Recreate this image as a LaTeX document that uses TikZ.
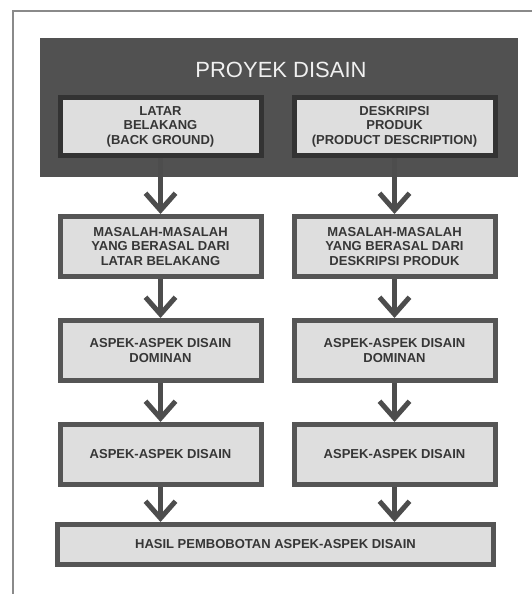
\documentclass[tikz,border=0pt]{standalone}
\usepackage{fontspec}
\setmainfont{Liberation Sans}
\usetikzlibrary{arrows.meta}
\definecolor{framegray}{HTML}{8A8A8A}
\definecolor{darkfill}{HTML}{515151}
\definecolor{boxfill}{HTML}{DEDEDE}
\definecolor{boxline}{HTML}{555555}
\definecolor{topline}{HTML}{333333}
\definecolor{txt}{HTML}{363636}
\definecolor{arrowc}{HTML}{4D4D4D}
\tikzset{
  flowbox/.style={draw=boxline, line width=5pt, fill=boxfill, inner sep=0pt,
    minimum width=201pt, minimum height=60pt, align=center, text=txt,
    font=\fontsize{13}{14.5}\selectfont\bfseries},
  topbox/.style={flowbox, draw=topline, minimum height=58pt},
  flowarrow/.style={draw=arrowc, line width=5pt,
    -{Straight Barb[length=17pt,width=30pt,line width=5pt]}},
}
\begin{document}
\begin{tikzpicture}[x=1pt,y=-1pt]
\useasboundingbox (0,0) rectangle (532,594);
% outer frame (cut at the right and bottom)
\draw[framegray, line width=2pt] (13,594) -- (13,11) -- (532,11);
% dark project box
\node[fill=darkfill, inner sep=0pt, minimum width=478pt, minimum height=139pt] (proyek) at (279,107.5) {};
\node[text=white!94!black, font=\fontsize{22}{24}\selectfont] (title) at (281,70) {PROYEK DISAIN};
\node[topbox] (latar) at (160.5,126.5) {LATAR\\BELAKANG\\(BACK GROUND)};
\node[topbox] (desk) at (394.5,126.5) {DESKRIPSI\\PRODUK\\(PRODUCT DESCRIPTION)};
% left column
\node[flowbox] (mas1) at (160.5,246.5) {MASALAH-MASALAH\\YANG BERASAL DARI\\LATAR BELAKANG};
\node[flowbox] (dom1) at (160.5,350.5) {ASPEK-ASPEK DISAIN\\DOMINAN};
\node[flowbox] (asp1) at (160.5,454.5) {ASPEK-ASPEK DISAIN};
% right column
\node[flowbox] (mas2) at (394.5,246.5) {MASALAH-MASALAH\\YANG BERASAL DARI\\DESKRIPSI PRODUK};
\node[flowbox] (dom2) at (394.5,350.5) {ASPEK-ASPEK DISAIN\\DOMINAN};
\node[flowbox] (asp2) at (394.5,454.5) {ASPEK-ASPEK DISAIN};
% result
\node[flowbox, minimum width=436pt, minimum height=40pt] (hasil) at (275.5,544.5) {HASIL PEMBOBOTAN ASPEK-ASPEK DISAIN};
% arrows
\draw[flowarrow] (latar.south) -- (mas1.north);
\draw[flowarrow] (mas1.south) -- (dom1.north);
\draw[flowarrow] (dom1.south) -- (asp1.north);
\draw[flowarrow] (asp1.south) -- (asp1.south |- hasil.north);
\draw[flowarrow] (desk.south) -- (mas2.north);
\draw[flowarrow] (mas2.south) -- (dom2.north);
\draw[flowarrow] (dom2.south) -- (asp2.north);
\draw[flowarrow] (asp2.south) -- (asp2.south |- hasil.north);
\end{tikzpicture}
\end{document}
